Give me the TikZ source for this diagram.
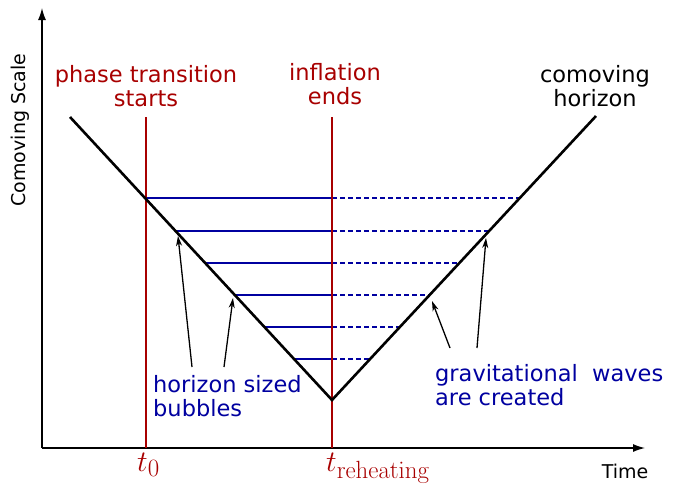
\documentclass[tikz,border=0pt]{standalone}
\usepackage[no-math]{fontspec}
\newfontfamily\dejavu{DejaVu Sans}
\usepackage{xcolor}
\usetikzlibrary{arrows.meta, positioning, calc}
\definecolor{phasered}{RGB}{168,0,0}
\definecolor{bubbleblue}{RGB}{0,0,160}
\newcommand{\tlabel}[1]{\scalebox{1.2}{$#1$}}

\begin{document}
\begin{tikzpicture}[
    x=1pt, y=-1pt,
    lbl/.style={font=\dejavu\fontsize{22.5}{24.5}\selectfont, align=center, inner sep=0pt},
    axlbl/.style={font=\dejavu\fontsize{19}{22}\selectfont, inner sep=0pt},
    tlbl/.style={font=\Huge, text=phasered, inner sep=0pt, anchor=base west},
    axis/.style={line width=1.3pt, -{Latex[length=12pt,width=8pt]}},
    epoch/.style={line width=1.6pt, phasered},
    horizon/.style={line width=2.6pt, line join=miter},
    bubble/.style={line width=1.6pt, bubbleblue},
    wave/.style={bubble, dash pattern=on 5pt off 3pt},
    arr/.style={-{Stealth[length=10pt,width=6pt,inset=3pt]}, line width=1.3pt}
]
\useasboundingbox (0,0) rectangle (682,483);

% axes
\coordinate (origin) at (42,448);
\coordinate (ytop) at (42,8);
\coordinate (xend) at (645,448);
\draw[axis] (origin) -- (ytop);
\draw[axis] (origin) -- (xend);
\node[axlbl, rotate=90] (ylab) at (20,130) {Comoving Scale};
\node[axlbl] (xlab) at (625,471) {Time};

% comoving horizon
\coordinate (hl) at (70,117);
\coordinate (hmin) at (332,400);
\coordinate (hr) at (596,116);

% bubbles: inside horizon (solid), waves after reheating (dashed)
\foreach \y/\xl/\xr in {198/146/519, 231/176/489, 263/205/459,
                        295/235/430, 327/264/400, 359/294/370} {
  \draw[bubble] (\xl,\y) -- (332,\y);
  \draw[wave] (332,\y) -- (\xr,\y);
}

% epochs
\coordinate (t0top) at (146,117);
\coordinate (t0bot) at (146,448);
\coordinate (trtop) at (332,117);
\coordinate (trbot) at (332,448);
\draw[epoch] (t0top) -- (t0bot);
\draw[epoch] (trtop) -- (trbot);

\draw[horizon] (hl) -- (hmin) -- (hr);

\node[lbl, phasered, anchor=north] (phase) at (146,65) {phase transition\\starts};
\node[lbl, phasered, anchor=north] (infl) at (335,63) {inflation\\ends};
\node[lbl, anchor=north] (comov) at (595,65) {comoving\\horizon};

\node[tlbl] (t0) at (137,471) {\tlabel{t_0}};
\node[tlbl] (treh) at (326,471) {\tlabel{t_{\mathrm{reheating}}}};

\node[lbl, text=bubbleblue, align=left, anchor=north west] (bubbles) at (153,375)
  {horizon sized\\bubbles};
\node[lbl, text=bubbleblue, align=left, anchor=north west] (gw) at (435,364)
  {gravitational\ \ waves\\are created};

\coordinate (b1) at (178,236);
\coordinate (b2) at (233,298);
\coordinate (g1) at (432,301);
\coordinate (g2) at (486,238);
\draw[arr] ([shift={(39,-8)}]bubbles.north west) -- (b1);
\draw[arr] ([shift={(71,-8)}]bubbles.north west) -- (b2);
\draw[arr] ([shift={(15,-16)}]gw.north west) -- (g1);
\draw[arr] ([shift={(42,-16)}]gw.north west) -- (g2);
\end{tikzpicture}
\end{document}
